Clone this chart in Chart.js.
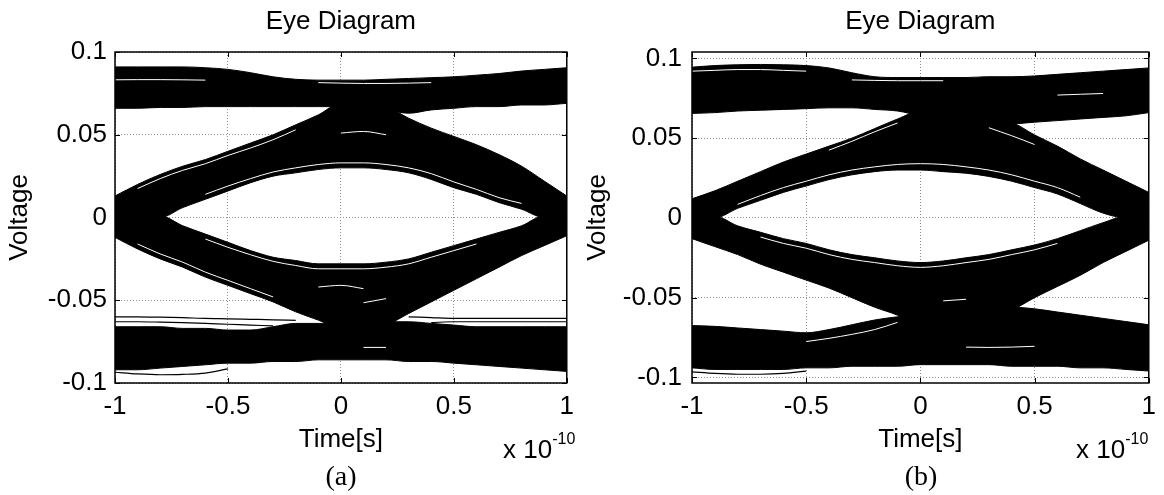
<!DOCTYPE html>
<html>
<head>
<meta charset="utf-8">
<title>Eye Diagram</title>
<script src="https://cdn.jsdelivr.net/npm/chart.js@4.4.1/dist/chart.umd.min.js"></script>
<style>
  html, body { margin: 0; padding: 0; background: #fff; }
  #wrap { position: relative; width: 1164px; height: 495px; overflow: hidden; font-family: "Liberation Sans", Arial, sans-serif; color: #000; }
  canvas { position: absolute; top: 0; }
  .expo { position: absolute; font-size: 26px; line-height: 26px; white-space: nowrap; }
  .expo span { position: relative; top: -14px; font-size: 16px; }
  .caption { position: absolute; width: 80px; text-align: center; font-family: "Liberation Serif", "Times New Roman", serif; font-size: 28px; line-height: 28px; }
</style>
</head>
<body>
<div id="wrap">
  <canvas id="eyeA" width="582" height="495" style="left:0"></canvas>
  <canvas id="eyeB" width="582" height="495" style="left:582px"></canvas>
  <div class="expo" style="left:503px; top:436px">x 10<span>-10</span></div>
  <div class="expo" style="left:1076px; top:436px">x 10<span>-10</span></div>
  <div class="caption" style="left:301px; top:462px">(a)</div>
  <div class="caption" style="left:881px; top:462px">(b)</div>
</div>
<script>
const timeGrid = [-1, -0.9, -0.8, -0.7, -0.6, -0.5, -0.4, -0.3, -0.2, -0.1, 0, 0.1, 0.2, 0.3, 0.4, 0.5, 0.6, 0.7, 0.8, 0.9, 1];
const timeTicks = [-1, -0.5, 0, 0.5, 1];
const voltTicks = [-0.1, -0.05, 0, 0.05, 0.1];
const _ = null;

// (a) band edges, volts at each timeGrid point
const aTopHigh    = [0.091, 0.091, 0.091, 0.091, 0.0905, 0.0895, 0.0875, 0.085, 0.0835, 0.083, 0.083, 0.083, 0.0835, 0.084, 0.0845, 0.085, 0.086, 0.087, 0.0885, 0.0895, 0.0905];
const aTopLow     = [0.066, 0.066, 0.0665, 0.0665, 0.067, 0.067, 0.067, 0.067, 0.067, 0.067, 0.067, 0.066, 0.065, 0.063, 0.065, 0.066, 0.067, 0.067, 0.068, 0.068, 0.069];
const aUpperOuter = [0.013, 0.020, 0.026, 0.031, 0.035, 0.040, 0.045, 0.050, 0.056, 0.062, 0.069, 0.069, 0.067, 0.060, 0.054, 0.049, 0.044, 0.038, 0.031, 0.022, 0.013];
const aUpperLid   = [0, 0, 0, 0.006, 0.011, 0.016, 0.021, 0.025, 0.027, 0.029, 0.030, 0.030, 0.029, 0.027, 0.023, 0.018, 0.014, 0.009, 0.005, 0, 0];
const aLowerLid   = [0.001, 0.001, 0.001, -0.005, -0.010, -0.015, -0.020, -0.024, -0.026, -0.028, -0.028, -0.028, -0.027, -0.025, -0.021, -0.017, -0.013, -0.009, -0.005, 0.001, 0.001];
const aLowerOuter = [-0.012, -0.019, -0.025, -0.030, -0.036, -0.041, -0.046, -0.051, -0.057, -0.062, -0.067, -0.067, -0.065, -0.058, -0.051, -0.044, -0.037, -0.030, -0.023, -0.017, -0.011];
const aBotHigh    = [-0.066, -0.066, -0.066, -0.067, -0.067, -0.068, -0.068, -0.066, -0.064, -0.064, -0.064, -0.064, -0.063, -0.063, -0.064, -0.065, -0.066, -0.066, -0.066, -0.066, -0.066];
const aBotLow     = [-0.092, -0.092, -0.091, -0.090, -0.089, -0.088, -0.088, -0.087, -0.087, -0.086, -0.086, -0.086, -0.086, -0.087, -0.087, -0.088, -0.089, -0.090, -0.091, -0.092, -0.093];

// (a) white gaps inside the bands
const aWhiteTop      = [0.0832, 0.0833, 0.0833, 0.0832, 0.0830, _, _, _, _, _, _, _, _, _, _, _, _, _, _, _, _];
const aWhiteTop2     = [_, _, _, _, _, _, _, _, _, 0.0815, 0.0812, 0.0810, 0.0810, 0.0812, 0.0815, _, _, _, _, _, _];
const aWhiteRise     = [_, 0.0175, 0.0235, 0.0285, 0.0325, 0.0375, 0.0420, 0.0470, 0.0530, _, _, _, _, _, _, _, _, _, _, _, _];
const aWhiteUpperLid = [_, _, _, _, 0.0140, 0.0190, 0.0235, 0.0275, 0.0300, 0.0320, 0.0330, 0.0330, 0.0320, 0.0300, 0.0265, 0.0215, 0.0170, 0.0120, 0.0085, _, _];
const aWhiteLowerLid = [_, _, _, _, -0.0130, -0.0180, -0.0225, -0.0265, -0.0290, -0.0310, -0.0310, -0.0310, -0.0300, -0.0280, -0.0240, -0.0200, -0.0160, _, _, _, _];
const aWhiteFall     = [_, -0.0160, -0.0220, -0.0270, -0.0330, -0.0380, -0.0430, -0.0480, _, _, _, _, _, _, _, _, _, _, _, _, _];
const aWhiteCrossUp  = [_, _, _, _, _, _, _, _, _, _, 0.0510, 0.0520, 0.0500, _, _, _, _, _, _, _, _];
const aWhiteCrossLo  = [_, _, _, _, _, _, _, _, _, -0.0420, -0.0410, -0.0430, _, _, _, _, _, _, _, _, _];
const aWhiteCrossLo2 = [_, _, _, _, _, _, _, _, _, _, _, -0.0785, -0.0785, _, _, _, _, _, _, _, _];
const aWhiteCrossLo3 = [_, _, _, _, _, _, _, _, _, _, _, -0.0515, -0.0490, _, _, _, _, _, _, _, _];

// (a) stray single traces
const aTraceBottom = [-0.0935, -0.0945, -0.0950, -0.0948, -0.0940, -0.0915, _, _, _, _, _, _, _, _, _, _, _, _, _, _, _];
const aTraceRailL1 = [-0.0600, -0.0600, -0.0602, -0.0605, -0.0610, -0.0612, -0.0615, -0.0618, -0.0622, _, _, _, _, _, _, _, _, _, _, _, _];
const aTraceRailL2 = [-0.0630, -0.0630, -0.0632, -0.0635, -0.0640, -0.0645, -0.0650, -0.0655, _, _, _, _, _, _, _, _, _, _, _, _, _];
const aTraceRailR1 = [_, _, _, _, _, _, _, _, _, _, _, _, _, -0.0600, -0.0605, -0.0610, -0.0610, -0.0610, -0.0610, -0.0610, -0.0610];
const aTraceRailR2 = [_, _, _, _, _, _, _, _, _, _, _, _, _, _, -0.0635, -0.0630, -0.0630, -0.0630, -0.0630, -0.0630, -0.0630];

// (b) band edges
const bTopHigh    = [0.0945, 0.0955, 0.096, 0.0962, 0.096, 0.0955, 0.094, 0.091, 0.0885, 0.088, 0.088, 0.088, 0.088, 0.0885, 0.0885, 0.089, 0.090, 0.091, 0.092, 0.093, 0.094];
const bTopLow     = [0.0655, 0.066, 0.067, 0.0675, 0.068, 0.0685, 0.069, 0.069, 0.068, 0.067, 0.064, 0.062, 0.061, 0.060, 0.059, 0.060, 0.061, 0.062, 0.063, 0.064, 0.066];
const bUpperOuter = [0.012, 0.017, 0.023, 0.029, 0.035, 0.040, 0.045, 0.050, 0.056, 0.062, 0.067, 0.066, 0.065, 0.063, 0.060, 0.052, 0.045, 0.037, 0.030, 0.023, 0.016];
const bUpperLid   = [0, 0, 0.006, 0.011, 0.016, 0.020, 0.024, 0.027, 0.029, 0.030, 0.030, 0.029, 0.028, 0.026, 0.023, 0.019, 0.015, 0.009, 0.003, 0, 0];
const bLowerLid   = [0.001, 0.001, -0.005, -0.009, -0.013, -0.016, -0.020, -0.023, -0.025, -0.027, -0.028, -0.027, -0.025, -0.023, -0.020, -0.017, -0.013, -0.008, -0.003, 0.001, 0.001];
const bLowerOuter = [-0.013, -0.018, -0.023, -0.029, -0.034, -0.039, -0.044, -0.050, -0.056, -0.061, -0.068, -0.068, -0.066, -0.064, -0.058, -0.050, -0.043, -0.036, -0.028, -0.021, -0.014];
const bBotHigh    = [-0.0675, -0.068, -0.069, -0.070, -0.071, -0.072, -0.070, -0.067, -0.064, -0.062, -0.061, -0.060, -0.059, -0.057, -0.056, -0.057, -0.059, -0.061, -0.063, -0.065, -0.067];
const bBotLow     = [-0.094, -0.095, -0.095, -0.095, -0.095, -0.094, -0.094, -0.093, -0.093, -0.093, -0.092, -0.092, -0.092, -0.092, -0.093, -0.093, -0.093, -0.094, -0.094, -0.095, -0.096];

const bWhiteTop      = [0.0920, 0.0925, 0.0930, 0.0930, 0.0925, 0.0920, _, _, _, _, _, _, _, _, _, _, _, _, _, _, _];
const bWhiteTop2     = [_, _, _, _, _, _, _, 0.0865, 0.0862, 0.0860, 0.0860, 0.0860, _, _, _, _, _, _, _, _, _];
const bWhiteTop3     = [_, _, _, _, _, _, _, _, _, _, _, _, _, _, _, _, 0.0770, 0.0775, 0.0780, _, _];
const bWhiteRise     = [_, _, _, _, _, _, 0.0425, 0.0480, 0.0540, 0.0595, _, _, _, _, _, _, _, _, _, _, _];
const bWhiteUpperLid = [_, _, 0.0085, 0.0140, 0.0190, 0.0230, 0.0270, 0.0300, 0.0320, 0.0335, 0.0340, 0.0335, 0.0320, 0.0300, 0.0270, 0.0230, 0.0190, 0.0130, _, _, _];
const bWhiteLowerLid = [_, _, _, -0.0120, -0.0160, -0.0190, -0.0230, -0.0260, -0.0280, -0.0300, -0.0310, -0.0300, -0.0280, -0.0260, -0.0230, -0.0200, -0.0160, _, _, _, _];
const bWhiteRailL    = [_, _, _, _, _, -0.0775, -0.0755, -0.0730, -0.0700, -0.0655, _, _, _, _, _, _, _, _, _, _, _];
const bWhiteFall     = [_, _, _, _, _, _, _, _, _, _, _, _, _, 0.0565, 0.0515, 0.0460, _, _, _, _, _];
const bWhiteCrossLo  = [_, _, _, _, _, _, _, _, _, _, _, _, -0.0810, -0.0812, -0.0810, -0.0805, _, _, _, _, _];
const bWhiteCrossLo2 = [_, _, _, _, _, _, _, _, _, _, _, -0.0520, -0.0510, _, _, _, _, _, _, _, _];

const bTraceBottom = [-0.0965, -0.0975, -0.0980, -0.0980, -0.0975, -0.0960, _, _, _, _, _, _, _, _, _, _, _, _, _, _, _];

Chart.defaults.font.family = '"Liberation Sans", Arial, sans-serif';
Chart.defaults.font.size = 26;
Chart.defaults.color = '#000';

const pts = ys => timeGrid.map((t, i) => ({ x: t, y: ys[i] }));

function buildDatasets(bands, whites, blacks) {
  const sets = [];
  bands.forEach(([hi, lo]) => {
    sets.push({ data: pts(hi), fill: '+1', backgroundColor: '#000', borderColor: '#000', borderWidth: 1, order: 3 });
    sets.push({ data: pts(lo), fill: false, borderColor: '#000', borderWidth: 1, order: 3 });
  });
  whites.forEach(w => sets.push({ data: pts(w), fill: false, borderColor: '#fff', borderWidth: 1, order: 2 }));
  blacks.forEach(b => sets.push({ data: pts(b), fill: false, borderColor: '#000', borderWidth: 1.2, order: 1 }));
  return sets;
}

// matlab style box with inward ticks
const boxAndTicks = {
  id: 'boxAndTicks',
  afterDatasetsDraw(chart) {
    const { ctx, chartArea: { left, right, top, bottom }, scales: { x, y } } = chart;
    ctx.save();
    ctx.strokeStyle = '#000';
    ctx.lineWidth = 1.5;
    ctx.strokeRect(left, top, right - left, bottom - top);
    ctx.lineWidth = 1;
    ctx.beginPath();
    x.ticks.forEach(t => {
      const px = Math.round(x.getPixelForValue(t.value)) + 0.5;
      ctx.moveTo(px, bottom); ctx.lineTo(px, bottom - 5);
      ctx.moveTo(px, top); ctx.lineTo(px, top + 5);
    });
    y.ticks.forEach(t => {
      const py = Math.round(y.getPixelForValue(t.value)) + 0.5;
      ctx.moveTo(left, py); ctx.lineTo(left + 5, py);
      ctx.moveTo(right, py); ctx.lineTo(right - 5, py);
    });
    ctx.stroke();
    ctx.restore();
  }
};

function eyeChart(id, sets, yMin, yMax, axisWidth, labelPad, titlePad, rightPad) {
  const grid = { color: '#8c8c8c', drawTicks: false };
  const border = { display: false, dash: [1, 2] };
  return new Chart(document.getElementById(id), {
    type: 'line',
    data: { datasets: sets },
    options: {
      responsive: false,
      animation: false,
      devicePixelRatio: 1,
      events: [],
      layout: { padding: { left: 0, right: rightPad, top: 0, bottom: 0 } },
      elements: { point: { radius: 0 }, line: { cubicInterpolationMode: 'monotone' } },
      plugins: {
        legend: { display: false },
        tooltip: { enabled: false },
        title: {
          display: true, fullSize: false, text: 'Eye Diagram',
          font: { size: 26, weight: 'normal' }, padding: { top: 6, bottom: 14.8 }
        }
      },
      scales: {
        x: {
          type: 'linear', min: -1, max: 1,
          afterBuildTicks: s => { s.ticks = timeTicks.map(v => ({ value: v })); },
          afterFit: s => { s.height = 112; },
          grid, border,
          ticks: { padding: 8, maxRotation: 0, autoSkip: false, callback: v => String(v) },
          title: { display: true, text: 'Time[s]', padding: { top: 0, bottom: 40 } }
        },
        y: {
          type: 'linear', min: yMin, max: yMax,
          afterBuildTicks: s => { s.ticks = voltTicks.map(v => ({ value: v })); },
          afterFit: s => { s.width = axisWidth; },
          grid, border,
          ticks: { padding: labelPad, autoSkip: false, callback: v => String(v) },
          title: { display: true, text: 'Voltage', padding: { top: titlePad, bottom: 0 } }
        }
      }
    },
    plugins: [boxAndTicks]
  });
}

eyeChart('eyeA', buildDatasets(
  [[aTopHigh, aTopLow], [aUpperOuter, aUpperLid], [aLowerLid, aLowerOuter], [aBotHigh, aBotLow]],
  [aWhiteTop, aWhiteTop2, aWhiteRise, aWhiteUpperLid, aWhiteLowerLid, aWhiteFall, aWhiteCrossUp, aWhiteCrossLo, aWhiteCrossLo2, aWhiteCrossLo3],
  [aTraceBottom, aTraceRailL1, aTraceRailL2, aTraceRailR1, aTraceRailR2]
), -0.1, 0.1, 115, 8, 4, 7);

eyeChart('eyeB', buildDatasets(
  [[bTopHigh, bTopLow], [bUpperOuter, bUpperLid], [bLowerLid, bLowerOuter], [bBotHigh, bBotLow]],
  [bWhiteTop, bWhiteTop2, bWhiteTop3, bWhiteRise, bWhiteUpperLid, bWhiteLowerLid, bWhiteRailL, bWhiteFall, bWhiteCrossLo, bWhiteCrossLo2],
  [bTraceBottom]
), -0.1035, 0.104, 110, 10, 0, 14);
</script>
</body>
</html>
